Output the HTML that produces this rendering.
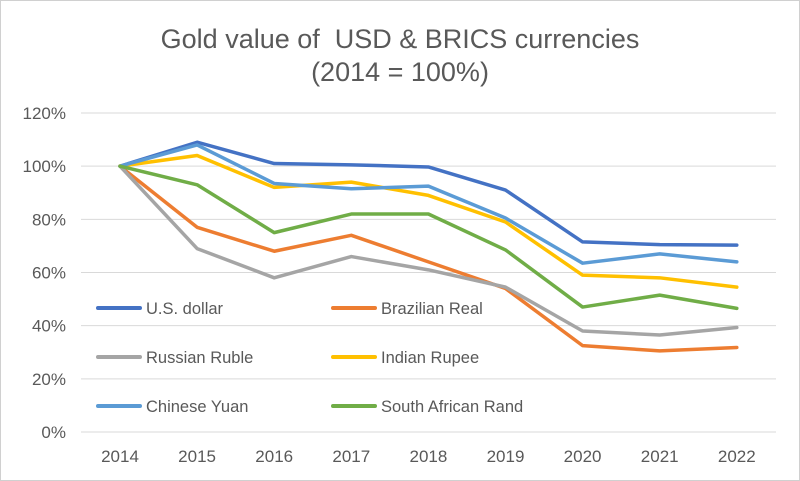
<!DOCTYPE html>
<html><head><meta charset="utf-8"><style>
body{margin:0;background:#fff}
svg{display:block;font-family:"Liberation Sans",sans-serif}
</style></head><body>
<svg id="c" width="800" height="481">
<rect x="0.5" y="0.5" width="799" height="480" fill="#fff" stroke="#d0d0d0"/>
<text x="400" y="48" text-anchor="middle" font-size="27" fill="#595959">Gold value of &#160;USD &amp; BRICS currencies</text>
<text x="400" y="81" text-anchor="middle" font-size="27" fill="#595959">(2014 = 100%)</text>
<g id="grid"></g><g id="lines"></g><g id="legend"></g>
</svg>
<script>
const years=["2014","2015","2016","2017","2018","2019","2020","2021","2022"];
const yTicks=[0,20,40,60,80,100,120];
const usd=[100,109,101,100.5,99.7,91,71.5,70.5,70.3];
const brl=[100,77,68,74,64,54,32.5,30.5,31.8];
const rub=[100,69,58,66,61,54.5,38,36.5,39.3];
const inr=[100,104,92,94,89,79,59,58,54.5];
const cny=[100,108,93.5,91.5,92.5,80.5,63.5,67,64];
const zar=[100,93,75,82,82,68.5,47,51.5,46.5];
const names=["U.S. dollar","Brazilian Real","Russian Ruble","Indian Rupee","Chinese Yuan","South African Rand"];
const series=[usd,brl,rub,inr,cny,zar];
const colors=["#4472C4","#ED7D31","#A5A5A5","#FFC000","#5B9BD5","#70AD47"];
const NS="http://www.w3.org/2000/svg";
const x0=120,dx=77.1,yBase=432,yScale=(432-113)/120;
const X=i=>x0+i*dx, Y=v=>yBase-v*yScale;
function mk(t,a,p){const e=document.createElementNS(NS,t);for(const k in a)e.setAttribute(k,a[k]);p.appendChild(e);return e;}
const g=document.getElementById('grid');
yTicks.forEach(t=>{
 const l=mk('line',{x1:81,x2:776,y1:Y(t),y2:Y(t),stroke:'#d9d9d9','stroke-width':1},g);
 
 
 const tx=mk('text',{x:66,y:Y(t)+6,'text-anchor':'end','font-size':17,fill:'#595959'},g);
 tx.textContent=t+'%';
 
 
});
years.forEach((y,i)=>{
 const tx=mk('text',{x:X(i),y:462,'text-anchor':'middle','font-size':17,fill:'#595959'},g);
 tx.textContent=y;
 
 
});
const lg=document.getElementById('lines');
series.forEach((s,k)=>{
 const p=mk('polyline',{points:s.map((v,i)=>X(i)+','+Y(v)).join(' '),fill:'none',stroke:colors[k],'stroke-width':3.5,'stroke-linejoin':'round','stroke-linecap':'round'},lg);
 
 
});
const leg=document.getElementById('legend');
const rowsY=[308,357,406],colX=[98,333];
names.forEach((n,k)=>{
 const cx=colX[k%2],cy=rowsY[Math.floor(k/2)];
 const l=mk('line',{x1:cx,x2:cx+42,y1:cy,y2:cy,stroke:colors[k],'stroke-width':4,'stroke-linecap':'round'},leg);
 
 
 const t=mk('text',{x:cx+48,y:cy+6,'font-size':16.5,fill:'#595959'},leg);
 t.textContent=n;
 
 
});
</script>
</body></html>
